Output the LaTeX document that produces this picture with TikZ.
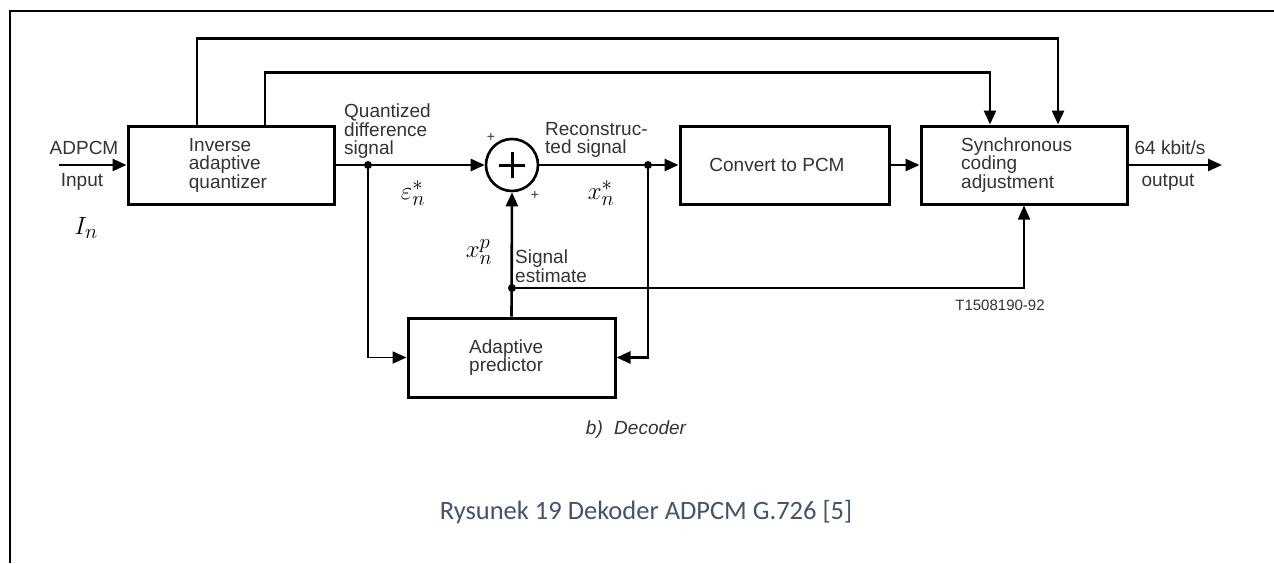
\documentclass[tikz,border=0pt]{standalone}
\usepackage{fontspec}
\setmainfont{Liberation Sans}
\newfontfamily\capfont{Carlito}
\usetikzlibrary{arrows.meta}
\definecolor{captxt}{HTML}{44546A}
\definecolor{txtgray}{HTML}{333333}
\begin{document}
\begin{tikzpicture}[x=1pt,y=-1pt,
  wire/.style={line width=2.6pt},
  thinwire/.style={line width=1.8pt},
  arr/.style={-{Triangle[length=14pt,width=12pt]}},
  blk/.style={draw, line width=3pt, minimum width=#1, minimum height=78pt, inner sep=0pt},
  lbl/.style={font=\fontsize{19}{18.5}\selectfont, text=txtgray, align=left, inner sep=0pt},
  mth/.style={font=\fontsize{32}{34}\selectfont, inner sep=0pt},
  jdot/.style={circle, fill=black, minimum size=8pt, inner sep=0pt},
  pl/.style={font=\fontsize{14}{14}\selectfont, inner sep=0pt, text=txtgray}
]
\useasboundingbox (0,0) rectangle (1274,563);
\fill[white] (0,0) rectangle (1274,563);
% frame
\draw[line width=2pt] (10,563) -- (10,11) -- (1274,11);

% blocks
\node[blk=206pt] (iaq) at (231,165) {};
\node[lbl] (iaqt) at (228,165) {Inverse\\adaptive\\quantizer};
\node[blk=209pt] (cpcm) at (784.5,165) {};
\node[lbl] (cpcmt) at (777,165) {Convert to PCM};
\node[blk=206pt] (sync) at (1024,165) {};
\node[lbl, anchor=west] (synct) at (961,165) {Synchronous\\coding\\adjustment};
\node[blk=207pt, minimum height=79pt] (pred) at (511.5,357.5) {};
\node[lbl, anchor=west] (predt) at (469,357.5) {Adaptive\\predictor};
\node[circle, draw, line width=2.6pt, minimum size=52pt, inner sep=0pt] (sum) at (512,165) {};
\draw[line width=3pt] ([xshift=-13pt]sum.center) -- ([xshift=13pt]sum.center);
\draw[line width=3pt] ([yshift=-13pt]sum.center) -- ([yshift=13pt]sum.center);

% junctions and free ends
\node[jdot] (d1) at (368,165) {};
\node[jdot] (d2) at (648,165) {};
\node[jdot] (d3) at (512,288) {};
\coordinate (in) at (59,165);
\coordinate (out) at (1222,165);

% connectors
\draw[wire,arr] (in) -- (iaq.west);
\draw[wire,arr] (iaq.east) -- (sum.west);
\draw[wire,arr] (sum.east) -- (cpcm.west);
\draw[wire,arr] (cpcm.east) -- (sync.west);
\draw[wire,arr] (sync.east) -- (out);
\draw[wire,arr] ([xshift=-34pt]iaq.north) -- ++(0,-86) -| ([xshift=34pt]sync.north);
\draw[wire,arr] ([xshift=34pt]iaq.north) -- ++(0,-52) -| ([xshift=-34pt]sync.north);
\draw[wire,arr] (pred.north) -- (sum.south);
\draw[thinwire,arr] (d3) -| (sync.south);
\draw[thinwire,arr] (d1) |- (pred.west);
\draw[wire,arr] (d2) |- (pred.east);

% labels
\node[lbl] (adpcm) at (84,148) {ADPCM};
\node[lbl] (inp) at (82,182) {Input};
\node[mth] (In) at (86,228) {$I_n$};
\node[lbl, anchor=west] (qds) at (344,131.5) {Quantized\\difference\\signal};
\node[mth] (eps) at (413,193) {$\varepsilon_n^*$};
\node[pl] (p1) at (491,137) {+};
\node[pl] (p2) at (535,195) {+};
\node[lbl, anchor=west] (rec) at (545,140) {Reconstruc-\\ted signal};
\node[mth] (xs) at (601,193) {$x_n^*$};
\node[mth] (xp) at (479,252) {$x_n^p$};
\node[lbl, anchor=west] (sest) at (515,266) {Signal\\estimate};
\node[lbl] (kbit) at (1170,148) {64 kbit/s};
\node[lbl] (outl) at (1168,182) {output};
\node[lbl, font=\fontsize{15}{15}\selectfont] (code) at (1000,305) {T1508190-92};
\node[lbl, font=\fontsize{19}{19}\selectfont\itshape] (dec) at (636,430) {b)\hspace{0.6em}Decoder};
\node[inner sep=0pt, text=captxt, font=\capfont\fontsize{26.5}{28}\selectfont] (cap) at (646,512) {Rysunek 19 Dekoder ADPCM G.726 [5]};
\end{tikzpicture}
\end{document}
